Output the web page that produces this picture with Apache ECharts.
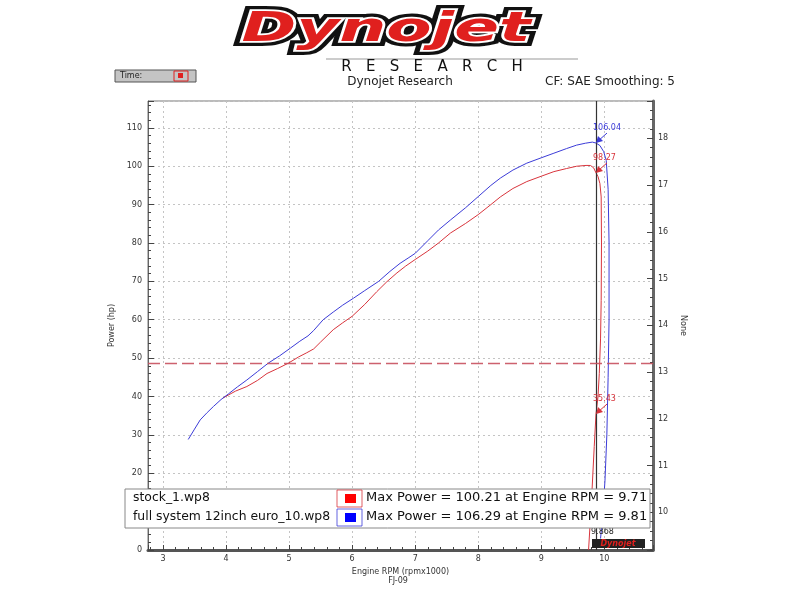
<!DOCTYPE html>
<html><head><meta charset="utf-8">
<script src="https://cdn.jsdelivr.net/npm/echarts@6/dist/echarts.min.js"></script>
<style>html,body{margin:0;padding:0;background:#fff}#c{width:800px;height:600px}</style>
</head><body><div id="c"></div>
<script>
// ---- data ----
const stockRpm = [3.95,4.15,4.33,4.5,4.65,4.82,4.99,5.15,5.28,5.39,5.5,5.7,5.85,6.0,6.2,6.39,6.55,6.71,6.85,7.0,7.2,7.37,7.56,7.8,8.0,8.2,8.35,8.55,8.77,9.0,9.2,9.4,9.56,9.71,9.78,9.83,9.868,9.9,9.93,9.95,9.955,9.95,9.94,9.92,9.9,9.868,9.84,9.8,9.75];
const stockHp  = [39.6,41.4,42.6,44.2,46.0,47.3,48.7,50.3,51.4,52.4,54.2,57.4,59.2,60.9,64.0,67.3,69.9,72.2,74.0,75.7,77.9,80.0,82.6,85.1,87.4,90.0,92.0,94.2,96.0,97.4,98.6,99.4,100.0,100.21,100.2,99.6,98.27,97.3,95.5,92,80,65,55,46,40,35.43,27,14,0];
const fullRpm = [3.4,3.5,3.59,3.7,3.8,3.92,4.04,4.18,4.33,4.5,4.67,4.85,5.02,5.17,5.3,5.39,5.54,5.7,5.85,6.02,6.2,6.42,6.6,6.76,6.9,7.0,7.2,7.37,7.56,7.8,8.0,8.2,8.35,8.55,8.77,9.0,9.2,9.4,9.56,9.7,9.81,9.868,9.93,9.99,10.03,10.06,10.075,10.075,10.06,10.04,10.01,9.97,9.94];
const fullHp  = [28.8,31.5,33.9,35.8,37.4,39.2,40.7,42.5,44.3,46.5,48.7,50.6,52.6,54.4,55.8,57.2,60.0,62.0,63.8,65.6,67.6,70.0,72.6,74.7,76.2,77.3,80.6,83.4,86.0,89.2,92.1,95.0,96.9,99.0,100.8,102.2,103.4,104.6,105.5,106.0,106.29,106.04,105.4,103.8,101.5,94,80,60,45,30,18,8,3];
const cursorRpm = 9.868;
const cursorFull = 106.04;
const cursorStock = 98.27;
const cursorStock2 = 35.43;
const refLineHp = 48.6;
const fileNames = ['stock_1.wp8', 'full system 12inch euro_10.wp8'];
const maxInfo = ['Max Power = 100.21 at Engine RPM = 9.71', 'Max Power = 106.29 at Engine RPM = 9.81'];
const RED = '#d8343c', BLUE = '#3c3cd8';
const F = "'DejaVu Sans', Verdana, sans-serif";

const pairs = (xs, ys) => xs.map((x, i) => [x, ys[i]]);

const chart = echarts.init(document.getElementById('c'));
const option = {
  animation: false,
  backgroundColor: '#fff',
  grid: { left: 148, right: 147, top: 101, bottom: 50, show: true, borderColor: '#777', borderWidth: 1 },
  xAxis: {
    type: 'value', min: 2.762, max: 10.772, minInterval: 1, maxInterval: 1, splitNumber: 8,
    name: 'Engine RPM (rpmx1000)', nameLocation: 'middle', nameGap: 14,
    nameTextStyle: { fontSize: 8, color: '#333', fontFamily: F },
    axisLine: { lineStyle: { color: '#555', width: 3 } },
    axisTick: { inside: true, length: 5, lineStyle: { color: '#444' } },
    minorTick: { show: true, splitNumber: 5, length: 3, lineStyle: { color: '#444' } },
    axisLabel: { fontSize: 8, color: '#333', fontFamily: F, margin: 5, showMinLabel: false, showMaxLabel: false },
    splitLine: { show: true, lineStyle: { color: '#c4c4c4', type: [2, 3] } }
  },
  yAxis: [{
    type: 'value', min: 0, max: 117, interval: 10, position: 'left',
    name: 'Power (hp)', nameLocation: 'middle', nameGap: 21,
    nameTextStyle: { fontSize: 8, color: '#333', fontFamily: F },
    axisLine: { show: true, lineStyle: { color: '#666', width: 1 } },
    axisTick: { inside: true, length: 6, lineStyle: { color: '#444' } },
    minorTick: { show: true, splitNumber: 5, length: 3, lineStyle: { color: '#444' } },
    axisLabel: { fontSize: 8, color: '#333', fontFamily: F, margin: 6, showMaxLabel: false },
    splitLine: { show: true, lineStyle: { color: '#c4c4c4', type: [2, 3] } }
  }, {
    type: 'value', min: 9.19, max: 18.8, minInterval: 1, maxInterval: 1, splitNumber: 10, position: 'right',
    name: 'None', nameLocation: 'middle', nameGap: 22, nameRotate: -90,
    nameTextStyle: { fontSize: 8, color: '#333', fontFamily: F },
    axisLine: { show: true, lineStyle: { color: '#666', width: 3 } },
    axisTick: { inside: true, length: 6, lineStyle: { color: '#444' } },
    minorTick: { show: true, splitNumber: 5, length: 3, lineStyle: { color: '#444' } },
    axisLabel: { fontSize: 8, color: '#333', fontFamily: F, margin: 5, showMinLabel: false, showMaxLabel: false },
    splitLine: { show: false }
  }],
  series: [{
    name: fileNames[0], type: 'line', data: pairs(stockRpm, stockHp), showSymbol: false, z: 3,
    lineStyle: { color: RED, width: 1 }, itemStyle: { color: RED },
    markLine: {
      silent: true, symbol: 'none', label: { show: false },
      lineStyle: { color: '#333', width: 1.2, type: 'solid' },
      data: [{ xAxis: cursorRpm }]
    }
  }, {
    name: fileNames[1], type: 'line', data: pairs(fullRpm, fullHp), showSymbol: false, z: 3,
    lineStyle: { color: BLUE, width: 1 }, itemStyle: { color: BLUE },
    markLine: {
      silent: true, symbol: 'none', label: { show: false },
      lineStyle: { color: '#c8505e', width: 1.3, type: [12, 5], opacity: 0.9 },
      data: [{ yAxis: refLineHp }]
    }
  }]
};
chart.setOption(option);

const P = (x, y) => chart.convertToPixel({ seriesIndex: 0 }, [x, y]);
function annot(x, y, color, txt) {
  const [px, py] = P(x, y);
  return [
    { type: 'line', z: 50, shape: { x1: px + 2, y1: py - 2, x2: px + 11, y2: py - 10 }, style: { stroke: color, lineWidth: 1 } },
    { type: 'polygon', z: 50, shape: { points: [[px, py], [px + 7, py - 2], [px + 2, py - 7]] }, style: { fill: color } },
    { type: 'text', z: 50, x: px - 3, y: py - 11, style: { text: txt, fill: color, font: '8px ' + F, textAlign: 'left', textVerticalAlign: 'bottom', align: 'left', verticalAlign: 'bottom' } }
  ];
}
const [cx, cy0] = P(cursorRpm, 0);
const g = [];
// logo
const logoStyle = { text: 'Dynojet', font: 'italic 900 40px ' + F, textAlign: 'center', textVerticalAlign: 'middle', align: 'center', verticalAlign: 'middle' };
g.push({ type: 'text', x: 386, y: 31, scaleX: 1.65, z: 1, style: Object.assign({}, logoStyle, { fill: '#111', stroke: '#111', lineWidth: 10 }) });
g.push({ type: 'text', x: 386, y: 31, scaleX: 1.65, z: 2, style: Object.assign({}, logoStyle, { fill: '#fff', stroke: '#fff', lineWidth: 3.5 }) });
g.push({ type: 'text', x: 386, y: 31, scaleX: 1.65, z: 3, style: Object.assign({}, logoStyle, { fill: '#e0201e' }) });
g.push({ type: 'line', shape: { x1: 326, y1: 59, x2: 578, y2: 59 }, style: { stroke: '#999', lineWidth: 1 } });
g.push({ type: 'text', x: 432, y: 67, style: { text: 'R   E   S   E   A   R   C   H', font: '15px ' + F, fill: '#111', textAlign: 'center', textVerticalAlign: 'middle', align: 'center', verticalAlign: 'middle' } });
// header row
g.push({ type: 'rect', shape: { x: 115, y: 70, width: 81, height: 12 }, style: { fill: '#c4c4c4', stroke: '#555', lineWidth: 1 } });
g.push({ type: 'text', x: 120, y: 76, style: { text: 'Time:', font: '8px ' + F, fill: '#222', textVerticalAlign: 'middle', verticalAlign: 'middle' } });
g.push({ type: 'rect', shape: { x: 174, y: 71, width: 14, height: 10 }, style: { fill: '#c4c4c4', stroke: '#e02020', lineWidth: 1 } });
g.push({ type: 'rect', shape: { x: 178, y: 73, width: 5, height: 5 }, style: { fill: '#e02020' } });
g.push({ type: 'text', x: 400, y: 82, style: { text: 'Dynojet Research', font: '12px ' + F, fill: '#222', textAlign: 'center', textVerticalAlign: 'middle', align: 'center', verticalAlign: 'middle' } });
g.push({ type: 'text', x: 675, y: 82, style: { text: 'CF: SAE Smoothing: 5', font: '12px ' + F, fill: '#222', textAlign: 'right', textVerticalAlign: 'middle', align: 'right', verticalAlign: 'middle' } });
g.push({ type: 'text', x: 398, y: 581, style: { text: 'FJ-09', font: '8px ' + F, fill: '#333', textAlign: 'center', textVerticalAlign: 'middle', align: 'center', verticalAlign: 'middle' } });
// annotations
g.push(...annot(cursorRpm, cursorFull, BLUE, cursorFull.toFixed(2)));
g.push(...annot(cursorRpm, cursorStock, RED, cursorStock.toFixed(2)));
g.push(...annot(cursorRpm, cursorStock2, RED, cursorStock2.toFixed(2)));
g.push({ type: 'text', z: 50, x: cx - 5, y: cy0 - 18, style: { text: cursorRpm.toFixed(3), font: '8px ' + F, fill: '#222', textAlign: 'left', textVerticalAlign: 'middle', align: 'left', verticalAlign: 'middle' } });
// mini logo
g.push({ type: 'rect', z: 50, shape: { x: 592, y: 539, width: 53, height: 9 }, style: { fill: '#222' } });
g.push({ type: 'text', z: 51, x: 618, y: 543.5, style: { text: 'Dynojet', font: 'italic bold 8px ' + F, fill: '#e0201e', textAlign: 'center', textVerticalAlign: 'middle', align: 'center', verticalAlign: 'middle' } });
// legend box
g.push({ type: 'rect', z: 60, shape: { x: 125, y: 489, width: 525, height: 39 }, style: { fill: '#fff', stroke: '#888', lineWidth: 1 } });
const cols = [RED, BLUE];
for (let i = 0; i < 2; i++) {
  const yy = 498 + i * 19;
  g.push({ type: 'text', z: 61, x: 133, y: yy, style: { text: fileNames[i], font: '12.4px ' + F, fill: '#111', textVerticalAlign: 'middle', verticalAlign: 'middle' } });
  g.push({ type: 'rect', z: 61, shape: { x: 337, y: yy - 8, width: 25, height: 17 }, style: { fill: '#fff', stroke: cols[i], lineWidth: 1, opacity: 0.8 } });
  g.push({ type: 'rect', z: 62, shape: { x: 345, y: yy - 4, width: 11, height: 9 }, style: { fill: i === 0 ? '#ff0000' : '#0000ff' } });
  g.push({ type: 'text', z: 61, x: 366, y: yy, style: { text: maxInfo[i], font: '13px ' + F, fill: '#111', textVerticalAlign: 'middle', verticalAlign: 'middle' } });
}
chart.setOption({ graphic: g });
</script></body></html>
